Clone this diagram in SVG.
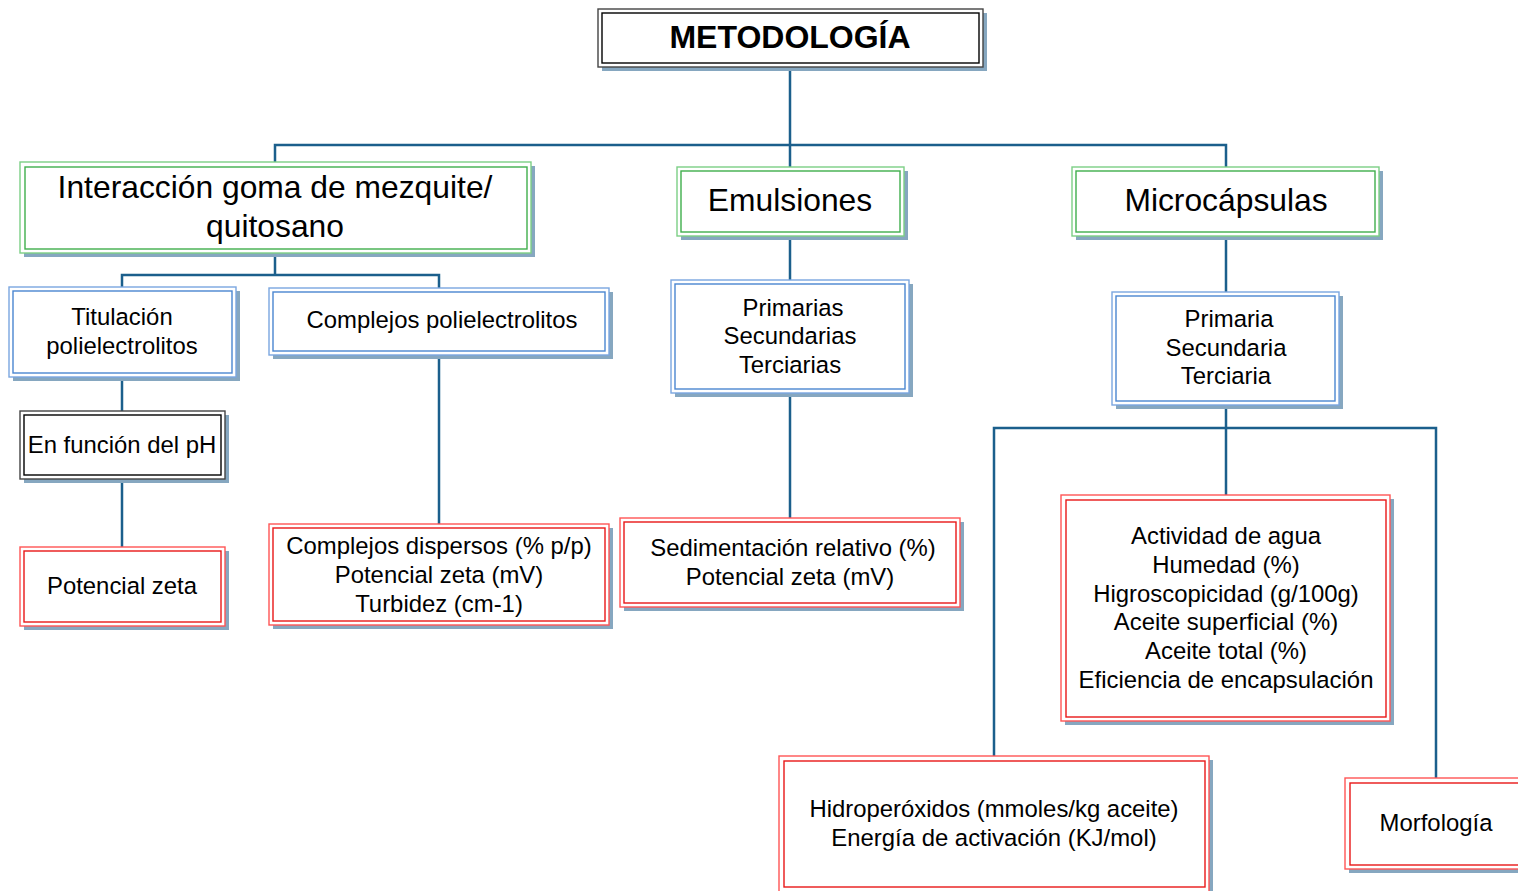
<svg xmlns="http://www.w3.org/2000/svg" width="1518" height="891" viewBox="0 0 1518 891">
<style>
.sh{fill:#86a7c0}
.o{fill:#fff;stroke-width:1.4}
.i{fill:none;stroke-width:1.4}
.g .o{stroke:#7ccf85}.g .i{stroke:#3fae4c}
.b .o{stroke:#7aa6e0}.b .i{stroke:#4a86d0}
.r .o{stroke:#ff5555}.r .i{stroke:#e81818}
.k .o{stroke:#444}.k .i{stroke:#000}
text{font-family:"Liberation Sans",Arial,sans-serif;fill:#000;text-anchor:middle}
.t1{font-size:32px;font-weight:bold}
.t2{font-size:31.8px}
.t3{font-size:23.9px}
#connectors path{fill:none;stroke:#1b5f8c;stroke-width:2.5}
</style>
<rect width="1518" height="891" fill="#fff"/>
<g id="connectors">
<path d="M790 67V168M275 163V145H1226V168"/>
<path d="M275 253V275M122 288V275H439V289"/>
<path d="M122 377V412M122 479V548M439 355V525"/>
<path d="M790 236V281M790 393V519"/>
<path d="M1226 236V293M1226 405V496M994 757V428H1436V779"/>
</g>
<g id="metodologia" class="k">
<rect class="sh" x="602" y="13" width="385" height="58"/>
<rect class="o" x="598" y="9" width="385" height="58"/>
<rect class="i" x="602" y="13" width="377" height="50"/>
<text class="t1" x="790" y="48">METODOLOGÍA</text>
</g>
<g id="interaccion" class="g">
<rect class="sh" x="24" y="166" width="511" height="91"/>
<rect class="o" x="20" y="162" width="511" height="91"/>
<rect class="i" x="25" y="167" width="502" height="82"/>
<text class="t2" x="275" y="198">Interacción goma de mezquite/</text>
<text class="t2" x="275" y="237">quitosano</text>
</g>
<g id="emulsiones" class="g">
<rect class="sh" x="681" y="171" width="227" height="69"/>
<rect class="o" x="677" y="167" width="227" height="69"/>
<rect class="i" x="681" y="171" width="219" height="61"/>
<text class="t2" x="790" y="211">Emulsiones</text>
</g>
<g id="microcapsulas" class="g">
<rect class="sh" x="1076" y="171" width="307" height="69"/>
<rect class="o" x="1072" y="167" width="307" height="69"/>
<rect class="i" x="1076" y="171" width="299" height="61"/>
<text class="t2" x="1226" y="211">Microcápsulas</text>
</g>
<g id="titulacion" class="b">
<rect class="sh" x="13" y="291" width="227" height="90"/>
<rect class="o" x="9" y="287" width="227" height="90"/>
<rect class="i" x="13" y="291" width="219" height="82"/>
<text class="t3" x="122" y="325">Titulación</text>
<text class="t3" x="122" y="354">polielectrolitos</text>
</g>
<g id="complejos" class="b">
<rect class="sh" x="273" y="292" width="340" height="67"/>
<rect class="o" x="269" y="288" width="340" height="67"/>
<rect class="i" x="273" y="292" width="332" height="59"/>
<text class="t3" x="442" y="328">Complejos polielectrolitos</text>
</g>
<g id="funcion-ph" class="k">
<rect class="sh" x="24" y="415" width="205" height="68"/>
<rect class="o" x="20" y="411" width="205" height="68"/>
<rect class="i" x="24" y="415" width="197" height="60"/>
<text class="t3" x="122" y="453">En función del pH</text>
</g>
<g id="potencial-zeta" class="r">
<rect class="sh" x="24" y="551" width="205" height="79"/>
<rect class="o" x="20" y="547" width="205" height="79"/>
<rect class="i" x="24" y="551" width="197" height="71"/>
<text class="t3" x="122" y="594">Potencial zeta</text>
</g>
<g id="complejos-dispersos" class="r">
<rect class="sh" x="273" y="528" width="340" height="101"/>
<rect class="o" x="269" y="524" width="340" height="101"/>
<rect class="i" x="273" y="528" width="332" height="93"/>
<text class="t3" x="439" y="554">Complejos dispersos (% p/p)</text>
<text class="t3" x="439" y="583">Potencial zeta (mV)</text>
<text class="t3" x="439" y="612">Turbidez (cm-1)</text>
</g>
<g id="primarias" class="b">
<rect class="sh" x="675" y="284" width="238" height="113"/>
<rect class="o" x="671" y="280" width="238" height="113"/>
<rect class="i" x="675" y="284" width="230" height="105"/>
<text class="t3" x="793" y="316">Primarias</text>
<text class="t3" x="790" y="344">Secundarias</text>
<text class="t3" x="790" y="373">Terciarias</text>
</g>
<g id="sedimentacion" class="r">
<rect class="sh" x="624" y="522" width="340" height="89"/>
<rect class="o" x="620" y="518" width="340" height="89"/>
<rect class="i" x="624" y="522" width="332" height="81"/>
<text class="t3" x="793" y="556">Sedimentación relativo (%)</text>
<text class="t3" x="790" y="585">Potencial zeta (mV)</text>
</g>
<g id="primaria" class="b">
<rect class="sh" x="1116" y="296" width="227" height="113"/>
<rect class="o" x="1112" y="292" width="227" height="113"/>
<rect class="i" x="1116" y="296" width="219" height="105"/>
<text class="t3" x="1229" y="327">Primaria</text>
<text class="t3" x="1226" y="356">Secundaria</text>
<text class="t3" x="1226" y="384">Terciaria</text>
</g>
<g id="actividad" class="r">
<rect class="sh" x="1065" y="499" width="329" height="226"/>
<rect class="o" x="1061" y="495" width="329" height="226"/>
<rect class="i" x="1066" y="500" width="320" height="217"/>
<text class="t3" x="1226" y="544">Actividad de agua</text>
<text class="t3" x="1226" y="573">Humedad (%)</text>
<text class="t3" x="1226" y="602">Higroscopicidad (g/100g)</text>
<text class="t3" x="1226" y="630">Aceite superficial (%)</text>
<text class="t3" x="1226" y="659">Aceite total (%)</text>
<text class="t3" x="1226" y="688">Eficiencia de encapsulación</text>
</g>
<g id="hidroperoxidos" class="r">
<rect class="sh" x="783" y="760" width="430" height="137"/>
<rect class="o" x="779" y="756" width="430" height="137"/>
<rect class="i" x="784" y="761" width="421" height="126"/>
<text class="t3" x="994" y="817">Hidroperóxidos (mmoles/kg aceite)</text>
<text class="t3" x="994" y="846">Energía de activación (KJ/mol)</text>
</g>
<g id="morfologia" class="r">
<rect class="sh" x="1349" y="782" width="200" height="91"/>
<rect class="o" x="1345" y="778" width="200" height="91"/>
<rect class="i" x="1350" y="783" width="190" height="82"/>
<text class="t3" x="1436" y="831">Morfología</text>
</g>
</svg>
